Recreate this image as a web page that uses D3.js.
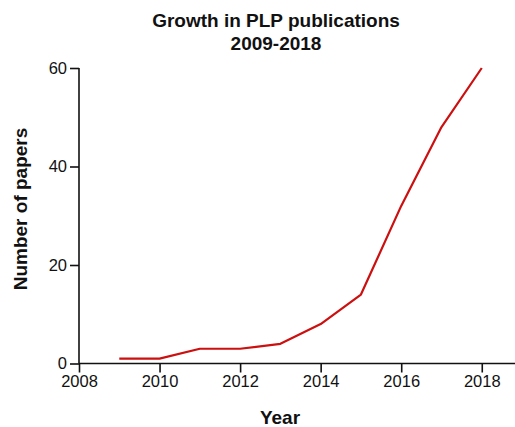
<!DOCTYPE html>
<html>
<head>
<meta charset="utf-8">
<script src="https://cdn.jsdelivr.net/npm/d3@7"></script>
<style>
  html, body { margin: 0; padding: 0; background: #fff; }
  svg { display: block; }
  text { font-family: "Liberation Sans", Arial, Helvetica, sans-serif; }
</style>
</head>
<body>
<svg id="chart" width="515" height="427"></svg>
<script>
const years = [2009, 2010, 2011, 2012, 2013, 2014, 2015, 2016, 2017, 2018];
const papers = [1, 1, 3, 3, 4, 8, 14, 32, 48, 60];
const xTicks = [2008, 2010, 2012, 2014, 2016, 2018];
const yTicks = [0, 20, 40, 60];
const titleLines = ["Growth in PLP publications", "2009-2018"];

const svg = d3.select("#chart");
const x = d3.scaleLinear().domain([2008, 2018.85]).range([79, 516]);
const y = d3.scaleLinear().domain([0, 60]).range([363.5, 68]);

// axes
const xAxis = svg.append("g").attr("transform", "translate(0,363.5)")
  .call(d3.axisBottom(x).tickValues(xTicks).tickFormat(d3.format("d")).tickSize(9).tickPadding(3));
const yAxis = svg.append("g").attr("transform", "translate(79,0)")
  .call(d3.axisLeft(y).tickValues(yTicks).tickSize(9).tickPadding(3));

[xAxis, yAxis].forEach(a => {
  a.select(".domain").attr("stroke", "#111").attr("stroke-width", 1.6);
  a.selectAll(".tick line").attr("stroke", "#111").attr("stroke-width", 1.6);
  a.selectAll(".tick text").attr("fill", "#111").style("font-size", "16.5px")
    .style("font-family", "'Liberation Sans', Arial, sans-serif");
});
xAxis.select(".domain").attr("d", `M${x(2008)},0H${x(2018.85)}`);
yAxis.select(".domain").attr("d", `M0,${y(60)}V${y(0)}`);

// line
const line = d3.line().x((d, i) => x(years[i])).y(d => y(d));
svg.append("path").datum(papers)
  .attr("d", line)
  .attr("fill", "none")
  .attr("stroke", "#cc0f0f")
  .attr("stroke-width", 2.2)
  .attr("stroke-linejoin", "round");

// title
svg.append("text").attr("x", 276).attr("text-anchor", "middle")
  .style("font-size", "19px").style("font-weight", "bold").attr("fill", "#111")
  .selectAll("tspan").data(titleLines).join("tspan")
  .attr("x", 276).attr("y", (d, i) => 27 + i * 23).text(d => d);

// axis labels
svg.append("text").attr("x", 280).attr("y", 424).attr("text-anchor", "middle")
  .style("font-size", "19px").style("font-weight", "bold").attr("fill", "#111").text("Year");
svg.append("text").attr("transform", "translate(27,209) rotate(-90)").attr("text-anchor", "middle")
  .style("font-size", "19px").style("font-weight", "bold").attr("fill", "#111").text("Number of papers");
</script>
</body>
</html>
